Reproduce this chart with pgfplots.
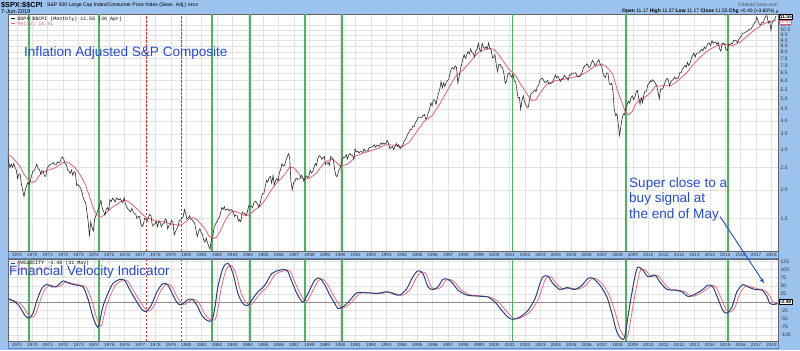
\documentclass[border=0pt]{standalone}
\usepackage{fontspec}
\setmainfont{Liberation Sans}
\newfontfamily\monof{Liberation Mono}
\newfontfamily\dejavu{DejaVu Sans}
\usepackage{pgfplots}
\pgfplotsset{compat=1.18}
\usetikzlibrary{arrows.meta}
\newcommand\sz[1]{\fontsize{#1}{#1}\selectfont}
\definecolor{frame}{RGB}{156,194,238}
\definecolor{frameline}{RGB}{95,130,185}
\definecolor{sgreen}{RGB}{72,182,92}
\definecolor{sdash}{RGB}{235,45,45}
\definecolor{pricek}{RGB}{45,45,45}
\definecolor{mared}{RGB}{232,95,115}
\definecolor{velblue}{RGB}{40,68,128}
\definecolor{velred}{RGB}{240,105,125}
\definecolor{annblue}{RGB}{35,75,215}
\definecolor{gridc}{RGB}{226,226,226}
\pgfplotsset{
 panel/.style={
  scale only axis, width=770bp, xmin=1969.42, xmax=2019.42,
  axis background/.style={fill=white},
  axis line style={draw=black!60, line width=0.5bp},
  major tick length=0pt, minor tick length=0pt,
  grid=major, major grid style={draw=gridc, line width=0.5bp},
  xtick={1970,...,2019}, scaled x ticks=false,
  xticklabel={\pgfmathtruncatemacro\yr{\tick}\yr},
  xticklabel style={font=\sz{4.6}, anchor=center, yshift=-3.6bp, inner sep=0pt, text=black!80},
  yticklabel pos=right,
  yticklabel style={font=\sz{5}, anchor=west, inner sep=0pt, xshift=2.5bp, text=black!80},
 },
 gline/.style={draw=sgreen, color=sgreen, line width=1.6bp, forget plot},
 rline/.style={draw=sdash, color=sdash, line width=1bp, dash pattern=on 2.5bp off 1.5bp, forget plot},
}
\begin{document}
\begin{tikzpicture}[x=1bp,y=1bp]
\fill[frame] (0,0) rectangle (800,350);
% date strips
\filldraw[fill=frame, draw=frameline, line width=0.4bp] (8,92) rectangle (778,99);
\filldraw[fill=frame, draw=frameline, line width=0.4bp] (8,2) rectangle (778,9);

%================ TOP PANEL =================
\begin{axis}[panel, at={(8bp,99bp)}, anchor=south west, height=237bp,
  ymode=log, ymin=1.08, ymax=11.75,
  ytick={1.5,2,2.5,3,3.5,4,4.5,5,5.5,6,6.5,7,7.5,8,8.5,9,9.5,10,10.5},
  yticklabels={1.5,2.0,2.5,3.0,3.5,4.0,4.5,5.0,5.5,6.0,6.5,7.0,7.5,8.0,8.5,9.0,9.5,10.0,10.5}]
\addplot[gline] coordinates {(1970.78,1.08) (1970.78,11.75)};
\addplot[gline] coordinates {(1975.34,1.08) (1975.34,11.75)};
\addplot[rline] coordinates {(1978.44,1.08) (1978.44,11.75)};
\addplot[rline] coordinates {(1980.69,1.08) (1980.69,11.75)};
\addplot[gline] coordinates {(1982.66,1.08) (1982.66,11.75)};
\addplot[gline] coordinates {(1985.15,1.08) (1985.15,11.75)};
\addplot[gline] coordinates {(1988.72,1.08) (1988.72,11.75)};
\addplot[gline] coordinates {(1991.12,1.08) (1991.12,11.75)};
\addplot[gline] coordinates {(2002.19,1.08) (2002.19,11.75)};
\addplot[gline] coordinates {(2009.53,1.08) (2009.53,11.75)};
\addplot[gline] coordinates {(2016.17,1.08) (2016.17,11.75)};
% MA(12)
\addplot[mared, line width=0.8bp] table {
x y
1969.38 2.86
1969.63 2.80
1969.96 2.65
1970.21 2.53
1970.46 2.34
1970.71 2.22
1970.96 2.15
1971.21 2.18
1971.46 2.31
1971.71 2.39
1971.96 2.43
1972.21 2.46
1972.46 2.49
1972.71 2.56
1972.96 2.63
1973.21 2.65
1973.46 2.60
1973.71 2.52
1973.96 2.41
1974.21 2.26
1974.46 2.10
1974.71 1.87
1974.96 1.66
1975.21 1.54
1975.46 1.52
1975.71 1.56
1975.96 1.63
1976.21 1.68
1976.46 1.72
1976.71 1.77
1976.96 1.81
1977.21 1.78
1977.46 1.73
1977.71 1.67
1977.96 1.61
1978.21 1.55
1978.46 1.50
1978.71 1.49
1978.96 1.46
1979.21 1.46
1979.46 1.45
1979.71 1.44
1979.96 1.42
1980.21 1.41
1980.46 1.40
1980.71 1.41
1980.96 1.45
1981.21 1.50
1981.46 1.51
1981.71 1.48
1981.96 1.41
1982.21 1.35
1982.46 1.26
1982.71 1.22
1982.96 1.24
1983.21 1.32
1983.46 1.44
1983.71 1.54
1983.96 1.61
1984.21 1.61
1984.46 1.58
1984.71 1.55
1984.96 1.54
1985.21 1.58
1985.46 1.64
1985.71 1.68
1985.96 1.75
1986.21 1.85
1986.46 1.97
1986.71 2.08
1986.96 2.18
1987.21 2.26
1987.46 2.37
1987.71 2.52
1987.96 2.50
1988.21 2.40
1988.46 2.27
1988.71 2.22
1988.96 2.25
1989.21 2.30
1989.46 2.37
1989.71 2.50
1989.96 2.63
1990.21 2.69
1990.46 2.72
1990.71 2.65
1990.96 2.55
1991.21 2.56
1991.46 2.59
1991.71 2.67
1991.96 2.80
1992.46 2.89
1992.96 2.96
1993.46 3.04
1993.96 3.15
1994.46 3.14
1994.96 3.08
1995.46 3.22
1995.96 3.59
1996.46 4.00
1996.96 4.22
1997.46 4.75
1997.96 5.46
1998.46 6.24
1998.96 6.68
1999.46 7.30
1999.96 7.99
2000.21 8.15
2000.46 8.23
2000.71 8.30
2000.96 8.24
2001.21 7.92
2001.46 7.51
2001.71 7.10
2001.96 6.70
2002.21 6.50
2002.46 6.20
2002.71 5.78
2002.96 5.47
2003.21 5.14
2003.46 4.91
2003.71 4.97
2003.96 5.28
2004.21 5.58
2004.46 5.83
2004.71 5.90
2004.96 6.00
2005.46 6.08
2005.96 6.18
2006.46 6.28
2006.96 6.52
2007.46 6.90
2007.96 7.10
2008.21 6.96
2008.46 6.72
2008.71 6.35
2008.96 5.54
2009.21 4.97
2009.46 4.46
2009.71 4.25
2009.96 4.41
2010.21 4.78
2010.46 4.98
2010.71 5.06
2010.96 5.19
2011.21 5.38
2011.46 5.70
2011.71 5.69
2011.96 5.70
2012.46 5.70
2012.96 6.04
2013.46 6.46
2013.96 7.12
2014.46 7.71
2014.96 8.21
2015.46 8.54
2015.96 8.67
2016.46 8.54
2016.96 8.86
2017.46 9.46
2017.96 10.07
2018.46 10.63
2018.96 10.92
2019.29 11.00
};
% S&P / CPI monthly
\addplot[pricek, line width=0.6bp] table {
x y
1969.38 2.84
1969.46 2.67
1969.54 2.50
1969.63 2.59
1969.71 2.51
1969.79 2.61
1969.88 2.50
1969.96 2.44
1970.04 2.24
1970.13 2.35
1970.21 2.34
1970.29 2.12
1970.38 1.98
1970.46 1.87
1970.54 2.00
1970.63 2.09
1970.71 2.15
1970.79 2.11
1970.88 2.20
1970.96 2.32
1971.04 2.41
1971.13 2.43
1971.21 2.51
1971.29 2.59
1971.38 2.47
1971.46 2.46
1971.54 2.35
1971.63 2.43
1971.71 2.41
1971.79 2.30
1971.88 2.29
1971.96 2.48
1972.04 2.53
1972.13 2.58
1972.21 2.59
1972.29 2.60
1972.38 2.63
1972.46 2.57
1972.54 2.57
1972.63 2.65
1972.71 2.63
1972.79 2.64
1972.88 2.75
1972.96 2.78
1973.04 2.72
1973.13 2.60
1973.21 2.57
1973.29 2.45
1973.38 2.41
1973.46 2.36
1973.54 2.44
1973.63 2.31
1973.71 2.40
1973.79 2.38
1973.88 2.09
1973.96 2.11
1974.04 2.08
1974.13 2.04
1974.21 1.97
1974.29 1.86
1974.38 1.79
1974.46 1.76
1974.54 1.61
1974.63 1.44
1974.71 1.25
1974.79 1.45
1974.88 1.36
1974.96 1.32
1975.04 1.48
1975.13 1.55
1975.21 1.59
1975.29 1.65
1975.38 1.73
1975.46 1.80
1975.54 1.66
1975.63 1.61
1975.71 1.55
1975.79 1.64
1975.88 1.67
1975.96 1.63
1976.04 1.81
1976.13 1.78
1976.21 1.84
1976.29 1.81
1976.38 1.77
1976.46 1.84
1976.54 1.82
1976.63 1.81
1976.71 1.83
1976.79 1.78
1976.88 1.76
1976.96 1.85
1977.04 1.74
1977.13 1.68
1977.21 1.65
1977.29 1.63
1977.38 1.60
1977.46 1.66
1977.54 1.61
1977.63 1.57
1977.71 1.57
1977.79 1.50
1977.88 1.53
1977.96 1.53
1978.04 1.43
1978.13 1.38
1978.21 1.41
1978.29 1.50
1978.38 1.49
1978.46 1.46
1978.54 1.52
1978.63 1.56
1978.71 1.54
1978.79 1.39
1978.88 1.41
1978.96 1.42
1979.04 1.46
1979.13 1.38
1979.21 1.46
1979.29 1.44
1979.38 1.38
1979.46 1.42
1979.54 1.42
1979.63 1.49
1979.71 1.47
1979.79 1.35
1979.88 1.40
1979.96 1.41
1980.04 1.47
1980.13 1.44
1980.21 1.27
1980.29 1.31
1980.38 1.35
1980.46 1.38
1980.54 1.47
1980.63 1.47
1980.71 1.51
1980.79 1.52
1980.88 1.64
1980.96 1.57
1981.04 1.49
1981.13 1.51
1981.21 1.54
1981.29 1.49
1981.38 1.48
1981.46 1.45
1981.54 1.43
1981.63 1.33
1981.71 1.25
1981.79 1.31
1981.88 1.35
1981.96 1.30
1982.04 1.28
1982.13 1.20
1982.21 1.18
1982.29 1.23
1982.38 1.17
1982.46 1.13
1982.54 1.10
1982.63 1.22
1982.71 1.23
1982.79 1.36
1982.88 1.41
1982.96 1.44
1983.04 1.48
1983.13 1.51
1983.21 1.56
1983.29 1.67
1983.38 1.64
1983.46 1.69
1983.54 1.63
1983.63 1.64
1983.71 1.65
1983.79 1.62
1983.88 1.64
1983.96 1.63
1984.04 1.60
1984.13 1.53
1984.21 1.55
1984.29 1.55
1984.38 1.46
1984.46 1.48
1984.54 1.45
1984.63 1.60
1984.71 1.58
1984.79 1.58
1984.88 1.55
1984.96 1.59
1985.04 1.70
1985.13 1.70
1985.21 1.70
1985.29 1.67
1985.38 1.75
1985.46 1.78
1985.54 1.77
1985.63 1.73
1985.71 1.68
1985.79 1.74
1985.88 1.86
1985.96 1.93
1986.04 1.93
1986.13 2.08
1986.21 2.20
1986.29 2.16
1986.38 2.27
1986.46 2.29
1986.54 2.14
1986.63 2.31
1986.71 2.10
1986.79 2.19
1986.88 2.24
1986.96 2.19
1987.04 2.38
1987.13 2.46
1987.21 2.60
1987.29 2.54
1987.38 2.56
1987.46 2.68
1987.54 2.77
1987.63 2.88
1987.71 2.79
1987.79 2.18
1987.88 2.00
1987.96 2.14
1988.04 2.17
1988.13 2.25
1988.21 2.22
1988.29 2.23
1988.38 2.24
1988.46 2.32
1988.54 2.28
1988.63 2.18
1988.71 2.27
1988.79 2.30
1988.88 2.26
1988.96 2.30
1989.04 2.43
1989.13 2.37
1989.21 2.41
1989.29 2.51
1989.38 2.61
1989.46 2.56
1989.54 2.75
1989.63 2.82
1989.71 2.80
1989.79 2.72
1989.88 2.77
1989.96 2.80
1990.04 2.58
1990.13 2.60
1990.21 2.64
1990.29 2.56
1990.38 2.80
1990.46 2.76
1990.54 2.73
1990.63 2.45
1990.71 2.31
1990.79 2.28
1990.88 2.41
1990.96 2.47
1991.04 2.56
1991.13 2.72
1991.21 2.78
1991.29 2.77
1991.38 2.85
1991.46 2.73
1991.54 2.84
1991.63 2.88
1991.71 2.83
1991.79 2.84
1991.88 2.72
1991.96 3.02
1992.04 2.93
1992.13 2.95
1992.21 2.90
1992.29 2.94
1992.38 2.94
1992.46 2.91
1992.54 3.02
1992.63 2.95
1992.71 2.96
1992.79 2.96
1992.88 3.06
1992.96 3.07
1993.04 3.08
1993.13 3.10
1993.21 3.15
1993.29 3.07
1993.38 3.14
1993.46 3.12
1993.54 3.10
1993.63 3.21
1993.71 3.16
1993.79 3.21
1993.88 3.17
1993.96 3.20
1994.04 3.29
1994.13 3.19
1994.21 3.03
1994.29 3.06
1994.38 3.10
1994.46 3.00
1994.54 3.08
1994.63 3.19
1994.71 3.10
1994.79 3.15
1994.88 3.03
1994.96 3.07
1995.04 3.12
1995.13 3.24
1995.21 3.31
1995.29 3.39
1995.38 3.51
1995.46 3.57
1995.54 3.68
1995.63 3.67
1995.71 3.81
1995.79 3.78
1995.88 3.94
1995.96 4.01
1996.04 4.13
1996.13 4.16
1996.21 4.15
1996.29 4.15
1996.38 4.23
1996.46 4.28
1996.54 4.08
1996.63 4.15
1996.71 4.36
1996.79 4.47
1996.88 4.80
1996.96 4.67
1997.04 4.94
1997.13 4.95
1997.21 4.73
1997.29 5.01
1997.38 5.31
1997.46 5.52
1997.54 5.95
1997.63 5.59
1997.71 5.88
1997.79 5.66
1997.88 5.92
1997.96 6.02
1998.04 6.07
1998.13 6.50
1998.21 6.79
1998.29 6.85
1998.38 6.72
1998.46 6.96
1998.54 6.88
1998.63 5.86
1998.71 6.22
1998.79 6.70
1998.88 7.10
1998.96 7.50
1999.04 7.79
1999.13 7.52
1999.21 7.80
1999.29 8.05
1999.38 7.86
1999.46 8.26
1999.54 7.98
1999.63 7.90
1999.71 7.64
1999.79 8.10
1999.88 8.24
1999.96 8.73
2000.04 8.24
2000.13 8.04
2000.21 8.75
2000.29 8.44
2000.38 8.29
2000.46 8.44
2000.54 8.27
2000.63 8.78
2000.71 8.27
2000.79 8.20
2000.88 7.55
2000.96 7.59
2001.04 7.80
2001.13 7.02
2001.21 6.59
2001.29 7.06
2001.38 7.07
2001.46 6.88
2001.54 6.82
2001.63 6.39
2001.71 5.84
2001.79 5.96
2001.88 6.42
2001.96 6.50
2002.04 6.38
2002.13 6.22
2002.21 6.42
2002.29 5.99
2002.38 5.94
2002.46 5.50
2002.54 5.06
2002.63 5.07
2002.71 4.50
2002.79 4.89
2002.88 5.16
2002.96 4.86
2003.04 4.71
2003.13 4.59
2003.21 4.60
2003.29 4.98
2003.38 5.26
2003.46 5.30
2003.54 5.38
2003.63 5.46
2003.71 5.38
2003.79 5.68
2003.88 5.74
2003.96 6.03
2004.04 6.12
2004.13 6.15
2004.21 6.01
2004.29 5.89
2004.38 5.93
2004.46 6.01
2004.54 5.81
2004.63 5.83
2004.71 5.87
2004.79 5.92
2004.88 6.15
2004.96 6.37
2005.04 6.18
2005.13 6.28
2005.21 6.11
2005.29 5.96
2005.38 6.13
2005.46 6.12
2005.54 6.34
2005.63 6.22
2005.71 6.18
2005.79 6.04
2005.88 6.37
2005.96 6.34
2006.04 6.47
2006.13 6.47
2006.21 6.48
2006.29 6.50
2006.38 6.25
2006.46 6.26
2006.54 6.26
2006.63 6.40
2006.71 6.58
2006.79 6.85
2006.88 6.98
2006.96 7.03
2007.04 7.11
2007.13 6.85
2007.21 6.88
2007.29 7.14
2007.38 7.36
2007.46 7.22
2007.54 6.99
2007.63 7.08
2007.71 7.32
2007.79 7.42
2007.88 7.05
2007.96 6.99
2008.04 6.53
2008.13 6.29
2008.21 6.20
2008.29 6.49
2008.38 6.47
2008.46 5.85
2008.54 5.76
2008.63 5.85
2008.71 5.33
2008.79 4.47
2008.88 4.22
2008.96 4.30
2009.04 3.91
2009.13 3.46
2009.21 3.75
2009.29 4.09
2009.38 4.30
2009.46 4.26
2009.54 4.58
2009.63 4.73
2009.71 4.89
2009.79 4.79
2009.88 5.07
2009.96 5.16
2010.04 4.96
2010.13 5.10
2010.21 5.37
2010.29 5.44
2010.38 5.01
2010.46 4.73
2010.54 5.05
2010.63 4.81
2010.71 5.23
2010.79 5.41
2010.88 5.40
2010.96 5.74
2011.04 5.84
2011.13 6.00
2011.21 5.93
2011.29 6.06
2011.38 5.96
2011.46 5.85
2011.54 5.72
2011.63 5.38
2011.71 4.99
2011.79 5.52
2011.88 5.51
2011.96 5.57
2012.04 5.79
2012.13 6.00
2012.21 6.14
2012.29 6.08
2012.38 5.70
2012.46 5.93
2012.54 6.02
2012.63 6.10
2012.71 6.23
2012.79 6.10
2012.88 6.15
2012.96 6.21
2013.04 6.50
2013.13 6.52
2013.21 6.74
2013.29 6.87
2013.38 7.00
2013.46 6.88
2013.54 7.22
2013.63 6.98
2013.71 7.18
2013.79 7.52
2013.88 7.75
2013.96 7.93
2014.04 7.62
2014.13 7.92
2014.21 7.92
2014.29 7.95
2014.38 8.09
2014.46 8.23
2014.54 8.10
2014.63 8.42
2014.71 8.29
2014.79 8.50
2014.88 8.75
2014.96 8.77
2015.04 8.54
2015.13 8.97
2015.21 8.76
2015.29 8.83
2015.38 8.86
2015.46 8.65
2015.54 8.82
2015.63 8.28
2015.71 8.07
2015.79 8.74
2015.88 8.77
2015.96 8.64
2016.04 8.19
2016.13 8.15
2016.21 8.65
2016.29 8.63
2016.38 8.73
2016.46 8.71
2016.54 9.03
2016.63 9.02
2016.71 8.98
2016.79 8.80
2016.88 9.11
2016.96 9.27
2017.04 9.39
2017.13 9.70
2017.21 9.69
2017.29 9.75
2017.38 9.86
2017.46 9.89
2017.54 10.09
2017.63 10.07
2017.71 10.21
2017.79 10.44
2017.88 10.73
2017.96 10.85
2018.04 11.39
2018.13 10.90
2018.21 10.58
2018.29 10.57
2018.38 10.80
2018.46 10.79
2018.54 11.17
2018.63 11.51
2018.71 11.55
2018.79 10.72
2018.88 10.95
2018.96 9.98
2019.04 10.74
2019.13 11.02
2019.21 11.15
2019.29 11.53
};
\node[anchor=north west, inner sep=0pt, font=\monof\sz{5}, align=left] at (rel axis cs:0.003,0.99)
 {\textcolor{black}{\rule[1.3bp]{4bp}{1bp}} \$SPX:\$\$CPI (Monthly) 11.55 (30 Apr)\\[0.6bp]
  \textcolor{mared}{\rule[1.3bp]{4bp}{1bp} MA(12) 10.91}};
\end{axis}

%================ BOTTOM PANEL =================
\begin{axis}[panel, at={(8bp,9bp)}, anchor=south west, height=82bp,
  ymin=-118, ymax=132,
  ytick={-100,-75,-50,-25,25,50,75,100,125},
  yticklabels={-100,-75,-50,-25,25,50,75,100,125}]
\addplot[gline] coordinates {(1970.78,-118) (1970.78,132)};
\addplot[gline] coordinates {(1975.34,-118) (1975.34,132)};
\addplot[rline] coordinates {(1978.44,-118) (1978.44,132)};
\addplot[rline] coordinates {(1980.69,-118) (1980.69,132)};
\addplot[gline] coordinates {(1982.66,-118) (1982.66,132)};
\addplot[gline] coordinates {(1985.15,-118) (1985.15,132)};
\addplot[gline] coordinates {(1988.72,-118) (1988.72,132)};
\addplot[gline] coordinates {(1991.12,-118) (1991.12,132)};
\addplot[gline] coordinates {(2002.19,-118) (2002.19,132)};
\addplot[gline] coordinates {(2009.53,-118) (2009.53,132)};
\addplot[gline] coordinates {(2016.17,-118) (2016.17,132)};
\addplot[black!45, line width=1bp, forget plot] coordinates {(1969.42,0) (2019.42,0)};
% signal line
\addplot[velred, line width=0.8bp, smooth, tension=0.5] table {
x y
1969.42 14
1969.62 8
1970.07 0
1970.39 -12
1970.72 -37
1970.98 -46
1971.24 -33
1971.50 4
1971.82 40
1972.15 53
1972.47 47
1972.80 49
1973.19 62
1973.64 57
1974.10 52
1974.49 46
1974.81 13
1975.14 -42
1975.39 -69
1975.52 -68
1975.78 -16
1976.11 25
1976.43 54
1976.89 68
1977.21 64
1977.54 37
1977.99 3
1978.38 -23
1978.64 -26
1978.97 -5
1979.29 30
1979.68 55
1980.01 51
1980.33 23
1980.65 -2
1980.91 -6
1981.24 5
1981.56 9
1981.89 -7
1982.21 -37
1982.54 -52
1982.86 -53
1983.06 -18
1983.25 40
1983.58 98
1983.90 113
1984.23 86
1984.55 29
1984.88 -1
1985.20 -8
1985.52 10
1985.85 30
1986.30 50
1986.76 85
1987.28 95
1987.73 95
1988.06 60
1988.38 28
1988.77 3
1989.10 25
1989.55 65
1989.88 70
1990.20 52
1990.52 23
1990.85 -2
1991.04 -17
1991.37 -14
1991.82 5
1992.28 27
1992.93 29
1993.58 27
1994.23 31
1994.75 24
1995.07 22
1995.52 38
1995.91 73
1996.24 92
1996.56 87
1996.89 48
1997.21 40
1997.54 46
1997.86 67
1998.19 69
1998.51 57
1998.84 38
1999.42 23
2000.07 20
2000.78 15
2001.24 2
2001.69 -22
2002.08 -42
2002.41 -50
2002.86 -44
2003.38 -26
2003.84 8
2004.16 52
2004.36 74
2004.68 78
2005.01 57
2005.46 40
2005.91 44
2006.43 40
2006.89 50
2007.28 70
2007.60 72
2008.06 53
2008.51 17
2008.84 -30
2009.16 -82
2009.49 -106
2009.68 -98
2010.01 -10
2010.33 70
2010.52 100
2010.85 96
2011.17 79
2011.63 81
2011.95 62
2012.41 40
2012.93 37
2013.38 32
2013.77 19
2014.10 21
2014.68 36
2015.07 50
2015.39 47
2015.72 13
2016.04 -22
2016.30 -30
2016.63 -15
2016.95 28
2017.34 50
2017.67 47
2018.12 41
2018.58 36
2018.90 18
2019.10 0
2019.38 -5.87
};
% velocity
\addplot[velblue, line width=1bp, smooth, tension=0.5] table {
x y
1969.42 11
1969.87 1
1970.19 -14
1970.52 -40
1970.78 -48
1971.04 -34
1971.30 6
1971.62 43
1971.95 55
1972.27 47
1972.60 49
1972.99 65
1973.44 57
1973.90 52
1974.29 47
1974.61 11
1974.94 -45
1975.19 -73
1975.32 -71
1975.58 -14
1975.91 27
1976.23 57
1976.69 70
1977.01 66
1977.34 37
1977.79 1
1978.18 -25
1978.44 -27
1978.77 -4
1979.09 32
1979.48 57
1979.81 52
1980.13 22
1980.45 -4
1980.71 -7
1981.04 6
1981.36 10
1981.69 -9
1982.01 -40
1982.34 -55
1982.66 -55
1982.86 -14
1983.05 47
1983.38 104
1983.70 119
1984.03 88
1984.35 27
1984.68 -4
1985.00 -9
1985.32 11
1985.65 32
1986.10 52
1986.56 88
1987.08 98
1987.53 98
1987.86 62
1988.18 27
1988.57 1
1988.90 27
1989.35 68
1989.68 73
1990.00 52
1990.32 22
1990.65 -4
1990.84 -19
1991.17 -14
1991.62 6
1992.08 29
1992.73 29
1993.38 27
1994.03 32
1994.55 24
1994.87 22
1995.32 42
1995.71 78
1996.04 96
1996.36 88
1996.69 47
1997.01 39
1997.34 47
1997.66 70
1997.99 70
1998.31 57
1998.64 37
1999.22 22
1999.87 19
2000.58 16
2001.04 1
2001.49 -25
2001.88 -45
2002.21 -52
2002.66 -45
2003.18 -25
2003.64 11
2003.96 57
2004.16 78
2004.48 80
2004.81 57
2005.26 39
2005.71 45
2006.23 39
2006.69 52
2007.08 73
2007.40 73
2007.86 52
2008.31 16
2008.64 -35
2008.96 -91
2009.29 -112
2009.48 -102
2009.81 -4
2010.13 78
2010.32 107
2010.65 98
2010.97 78
2011.43 83
2011.75 62
2012.21 39
2012.73 37
2013.18 32
2013.57 18
2013.90 22
2014.48 37
2014.87 52
2015.19 47
2015.52 11
2015.84 -25
2016.10 -33
2016.43 -14
2016.75 32
2017.14 54
2017.47 47
2017.92 39
2018.38 37
2018.70 18
2018.90 -4
2019.22 -6
2019.38 -3.48
};
\node[anchor=north west, inner sep=0pt, font=\monof\sz{5}, align=left] at (rel axis cs:0.003,0.975)
 {\textcolor{velblue}{\rule[1.3bp]{4bp}{1bp}} @VELOCITY -3.48 (31 May)\\[0.4bp]
  \textcolor{velred}{\rule[1.3bp]{4bp}{1bp} MA(3) -5.87}};
\end{axis}

% value boxes on the right
\node[draw=black, fill=white, line width=0.4bp, inner sep=0.6bp, font=\sz{5}\bfseries, anchor=west] at (779,333) {11.55};
\node[draw=mared, fill=white, line width=0.4bp, inner sep=0.5bp, font=\sz{4.5}, text=mared, anchor=west] at (779,328.2) {10.91};
\node[draw=black, fill=white, line width=0.4bp, inner sep=0.6bp, font=\sz{5}\bfseries, anchor=west] at (779,48) {-3.48};

% header
\node[anchor=west, inner sep=0pt, font=\sz{7.3}\bfseries] at (1,345) {\$SPX:\$\$CPI};
\node[anchor=west, inner sep=0pt, font=\sz{5.1}] at (47,345) {S\&P 500 Large Cap Index/Consumer Price Index (Seas. Adj.) {\sz{4.3}INDX}};
\node[anchor=west, inner sep=0pt, font=\sz{5.8}] at (1,338.6) {7-Jun-2019};
\node[anchor=east, inner sep=0pt, font=\sz{4.8}, text=black!70] at (778,345.5) {\copyright StockCharts.com};
\node[anchor=east, inner sep=0pt, font=\sz{5}] at (779,338.6) {\textbf{Open} 11.17 \textbf{High} 11.57 \textbf{Low} 11.17 \textbf{Close} 11.55 \textbf{Chg} +0.40 (+3.60\%) {\dejavu\sz{4}\textcolor{black!70}{▲}}};

% annotations
\node[anchor=west, inner sep=0pt, font=\sz{13.6}, text=annblue] at (24,297) {Inflation Adjusted S\&P Composite};
\node[anchor=west, inner sep=0pt, font=\sz{13.6}, text=annblue] at (9,78) {Financial Velocity Indicator};
\node[anchor=north west, inner sep=0pt, font=\fontsize{13.6}{15.6}\selectfont, text=annblue, align=left] at (629,173) {Super close to a\\buy signal at\\the end of May};
\draw[annblue, line width=0.9bp, -{Stealth[length=5bp,width=4bp]}] (720,133.5) -- (764,67);

\pgfresetboundingbox
\useasboundingbox (0,0) rectangle (800,350);
\end{tikzpicture}
\end{document}
